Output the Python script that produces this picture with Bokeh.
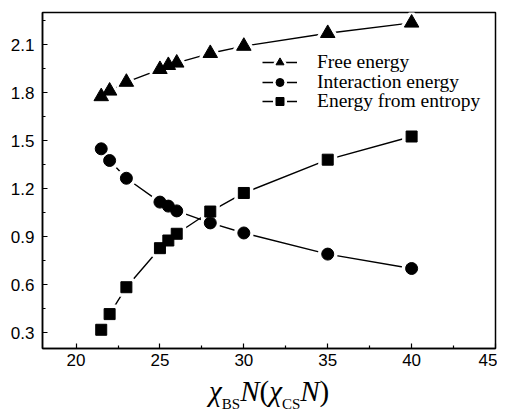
from bokeh.plotting import figure
from bokeh.models import Range1d, FixedTicker, Legend, LegendItem, Div
from bokeh.layouts import column
from bokeh.embed import file_html
from bokeh.resources import INLINE

# data
x_vals = [21.5, 22, 23, 25, 25.5, 26, 28, 30, 35, 40]
free_energy = [1.775, 1.81, 1.865, 1.945, 1.97, 1.985, 2.045, 2.09, 2.17, 2.235]
interaction_energy = [1.448, 1.375, 1.264, 1.115, 1.09, 1.06, 0.985, 0.922, 0.79, 0.70]
entropy_energy = [0.317, 0.415, 0.583, 0.827, 0.875, 0.917, 1.056, 1.172, 1.38, 1.525]
series_names = ["Free energy", "Interaction energy", "Energy from entropy"]
x_ticks = [20, 25, 30, 35, 40, 45]
x_minor = [22.5, 27.5, 32.5, 37.5, 42.5]
y_ticks = [0.3, 0.6, 0.9, 1.2, 1.5, 1.8, 2.1]
y_minor = [0.45, 0.75, 1.05, 1.35, 1.65, 1.95, 2.25]
title_parts = ["χ", "BS", "N(", "χ", "CS", "N)"]

W = 497
p = figure(width=W, height=374, output_backend="svg", toolbar_location=None,
           x_range=Range1d(18, 45), y_range=Range1d(0.2, 2.3),
           min_border_left=42, min_border_right=2, min_border_top=12, min_border_bottom=26)
p.xgrid.visible = False
p.ygrid.visible = False
p.outline_line_color = "black"
p.outline_line_width = 1.5
p.background_fill_color = "white"
p.border_fill_color = "white"

for ax, ticks, minor in ((p.xaxis[0], x_ticks, x_minor), (p.yaxis[0], y_ticks, y_minor)):
    ax.ticker = FixedTicker(ticks=ticks, minor_ticks=minor)
    ax.major_tick_in = 5
    ax.major_tick_out = 0
    ax.minor_tick_in = 3
    ax.minor_tick_out = 0
    ax.axis_line_width = 1.5
    ax.major_tick_line_width = 1.2
    ax.minor_tick_line_width = 1.2
    ax.major_label_text_font = "Liberation Sans"
    ax.major_label_text_font_size = "17px"
    ax.major_label_text_color = "black"
p.xaxis.major_label_standoff = 5
p.yaxis.major_label_standoff = 8

series = [free_energy, interaction_energy, entropy_energy]
markers = ["triangle", "circle", "square"]
sizes = [14.5, 12, 11]
lines, whites, blacks = [], [], []
for ys in series:
    lines.append(p.line(x_vals, ys, line_color="black", line_width=1.4))
for ys, mk, sz in zip(series, markers, sizes):
    whites.append(p.scatter(x_vals, ys, marker=mk, size=sz + 2, fill_color="white",
                            line_color="white", line_width=6))
for ys, mk, sz in zip(series, markers, sizes):
    blacks.append(p.scatter(x_vals, ys, marker=mk, size=sz, fill_color="black",
                            line_color="black"))

legend_y = [275, 255, 236]
for n, l, w, b, ly in zip(series_names, lines, whites, blacks, legend_y):
    lg = Legend(items=[LegendItem(label=n, renderers=[l, w, b])], location=(220, ly),
                border_line_color=None, background_fill_alpha=0, padding=0, margin=0,
                glyph_width=35, glyph_height=20, label_height=20, spacing=0,
                label_standoff=20, label_text_font="Liberation Serif",
                label_text_font_size="19.5px", label_text_color="black")
    p.add_layout(lg, "center")

# axis title (with subscripts) as HTML text below the plot
sub_style = "font-size:15px;font-style:normal;vertical-align:-8px;line-height:0;"
html = (
    '<div style="font-family:\'Liberation Serif\';font-size:29px;line-height:28px;'
    'padding-left:209px;padding-top:3px;white-space:nowrap;color:black;">'
    f'<i>{title_parts[0]}</i><span style="{sub_style}">{title_parts[1]}</span>'
    f'<i>{title_parts[2][0]}</i>{title_parts[2][1]}'
    f'<i>{title_parts[3]}</i><span style="{sub_style}">{title_parts[4]}</span>'
    f'<i>{title_parts[5][0]}</i>{title_parts[5][1]}'
    '</div>'
)
t = Div(text=html, width=W, height=37, margin=0)

layout = column(p, t, spacing=0)
open("out.html", "w").write(file_html(layout, INLINE))
